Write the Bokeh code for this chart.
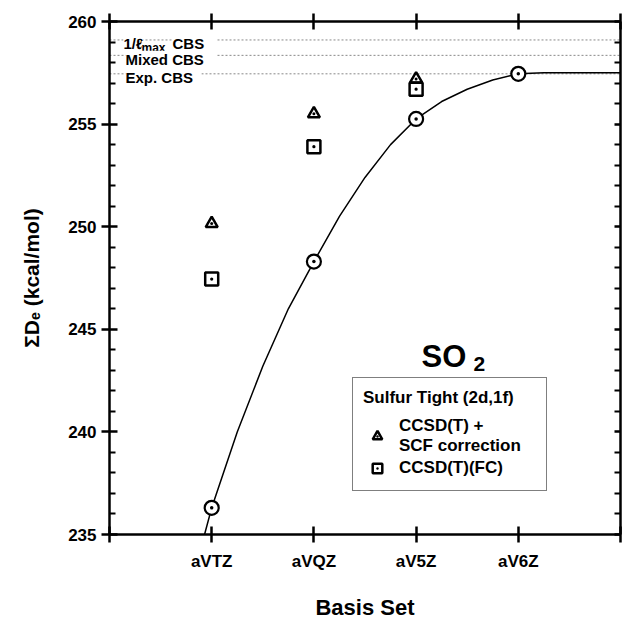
from bokeh.plotting import figure
from bokeh.models import (LinearAxis, FixedTicker, Span, Label, Legend, LegendItem, Range1d)
from bokeh.embed import file_html
from bokeh.resources import INLINE

# ---------------- data ----------------
basis_sets = ["aVTZ", "aVQZ", "aV5Z", "aV6Z"]
basis_n = [3, 4, 5, 6]
x_ticks = [2, 3, 4, 5, 6, 7]
y_ticks = [235, 240, 245, 250, 255, 260]
y_minor = [v for v in range(236, 260) if v % 5 != 0]

extrap_n = [3, 4, 5, 6]
extrap_de = [236.3, 248.3, 255.25, 257.45]          # circles on the fitted curve

scf_n = [3, 4, 5]
ccsdt_scf_de = [250.15, 255.5, 257.2]               # triangles: CCSD(T) + SCF correction

fc_n = [3, 4, 5]
ccsdt_fc_de = [247.45, 253.9, 256.7]                # squares: CCSD(T)(FC)

curve_n = [2.93, 3.0, 3.25, 3.5, 3.75, 4.0, 4.25, 4.5, 4.75, 5.0, 5.25, 5.5, 5.75, 6.0, 6.25, 6.5, 7.0]
curve_de = [235.0, 236.3, 240.0, 243.2, 246.0, 248.3, 250.5, 252.4, 254.0, 255.25, 256.1, 256.7,
            257.15, 257.45, 257.5, 257.5, 257.5]

cbs_values = [259.1, 258.35, 257.45]                # 1/lmax CBS, Mixed CBS, Exp. CBS

FONT = "Liberation Sans"

p = figure(width=629, height=624, x_range=Range1d(2, 7), y_range=Range1d(235, 260),
           x_axis_type=None, y_axis_type=None, output_backend="svg", toolbar_location=None,
           min_border_left=109, min_border_right=9, min_border_top=21, min_border_bottom=90)
p.outline_line_color = None
p.background_fill_color = "white"
p.border_fill_color = "white"


def style_axis(ax, labels=True):
    ax.axis_line_width = 2.5
    ax.axis_line_color = "black"
    ax.major_tick_line_width = 2.5
    ax.minor_tick_line_width = 2
    ax.major_label_text_font = FONT
    ax.major_label_text_font_style = "bold"
    ax.major_label_text_color = "black"
    ax.axis_label_text_color = "black"
    if labels:
        ax.major_label_text_font_size = "17px"
    else:
        ax.major_label_text_font_size = "0px"
        ax.major_label_standoff = 0


overrides = {n: lab for n, lab in zip(basis_n, basis_sets)}
overrides.update({2: "", 7: ""})

bottom = LinearAxis(ticker=FixedTicker(ticks=x_ticks), major_label_overrides=overrides)
style_axis(bottom)
bottom.major_tick_in = 8
bottom.major_tick_out = 8
bottom.minor_tick_line_color = None
bottom.major_label_standoff = 9
bottom.axis_label = "Basis Set"
bottom.axis_label_text_font = FONT
bottom.axis_label_text_font_style = "bold"
bottom.axis_label_text_font_size = "22px"
bottom.axis_label_standoff = 21
p.add_layout(bottom, "below")

top = LinearAxis(ticker=FixedTicker(ticks=x_ticks))
style_axis(top, labels=False)
top.major_tick_in = 8
top.major_tick_out = 8
top.minor_tick_line_color = None
p.add_layout(top, "above")

left = LinearAxis(ticker=FixedTicker(ticks=y_ticks, minor_ticks=y_minor))
style_axis(left)
left.major_tick_in = 8
left.major_tick_out = 8
left.minor_tick_in = 6
left.minor_tick_out = 0
left.major_label_standoff = 5
left.axis_label = "ΣDₑ (kcal/mol)"
left.axis_label_text_font = FONT
left.axis_label_text_font_style = "bold"
left.axis_label_text_font_size = "21px"
left.axis_label_standoff = 22
p.add_layout(left, "left")

right = LinearAxis(ticker=FixedTicker(ticks=y_ticks, minor_ticks=y_minor))
style_axis(right, labels=False)
right.major_tick_in = 6
right.major_tick_out = 0
right.minor_tick_in = 6
right.minor_tick_out = 0
p.add_layout(right, "right")

# CBS reference lines
for v in cbs_values:
    p.add_layout(Span(location=v, dimension="width", line_color="#888888", line_width=1,
                      line_dash="2 2", level="underlay"))

# fitted curve + points
p.line(curve_n, curve_de, line_color="black", line_width=1.5)
p.scatter(extrap_n, extrap_de, marker="circle_dot", size=14, line_color="black",
          line_width=2.2, fill_color="white")
tri_r = p.scatter(scf_n, ccsdt_scf_de, marker="triangle_dot", size=12, line_color="black",
                  line_width=2.5, fill_color="white")
sq_r = p.scatter(fc_n, ccsdt_fc_de, marker="square_dot", size=13, line_color="black",
                 line_width=2.5, fill_color="white")


# CBS labels (left, over the dotted lines)
def lab(text, x, y, size, y_off=-4):
    p.add_layout(Label(x=x, y=y, x_units="screen", y_units="data", text=text, y_offset=y_off,
                       text_font=FONT, text_font_style="bold", text_font_size=size,
                       text_color="black", text_baseline="middle", text_align="left",
                       background_fill_color="white"))


lab("1/ℓ", 14, cbs_values[0], "15px")
lab("max ", 32, cbs_values[0], "12px", y_off=-8)
lab("CBS   ", 63, cbs_values[0], "15px")
lab("Mixed CBS   ", 16, cbs_values[1], "15px")
lab("Exp. CBS  ", 16, cbs_values[2], "15px")

# SO2
p.add_layout(Label(x=312, y=178, x_units="screen", y_units="screen", text="SO",
                   text_font=FONT, text_font_style="bold", text_font_size="31px",
                   text_color="black", text_baseline="alphabetic"))
p.add_layout(Label(x=364, y=171, x_units="screen", y_units="screen", text="2",
                   text_font=FONT, text_font_style="bold", text_font_size="21px",
                   text_color="black", text_baseline="alphabetic"))

legend = Legend(items=[LegendItem(label="CCSD(T) +\nSCF correction", renderers=[tri_r]),
                       LegendItem(label="CCSD(T)(FC)", renderers=[sq_r])],
                title="Sulfur Tight (2d,1f)", location=(243, 43))
legend.title_text_font = FONT
legend.title_text_font_style = "bold"
legend.title_text_font_size = "17px"
legend.title_text_color = "black"
legend.title_standoff = 8
legend.label_text_font = FONT
legend.label_text_font_style = "bold"
legend.label_text_font_size = "17px"
legend.label_text_color = "black"
legend.label_text_line_height = 0.85
legend.label_width = 137
legend.border_line_color = "black"
legend.border_line_width = 1.5
legend.background_fill_alpha = 1
legend.glyph_width = 28
legend.glyph_height = 24
legend.padding = 10
legend.spacing = 0
legend.margin = 0
legend.label_standoff = 8
p.add_layout(legend)

open("out.html", "w").write(file_html(p, INLINE))
